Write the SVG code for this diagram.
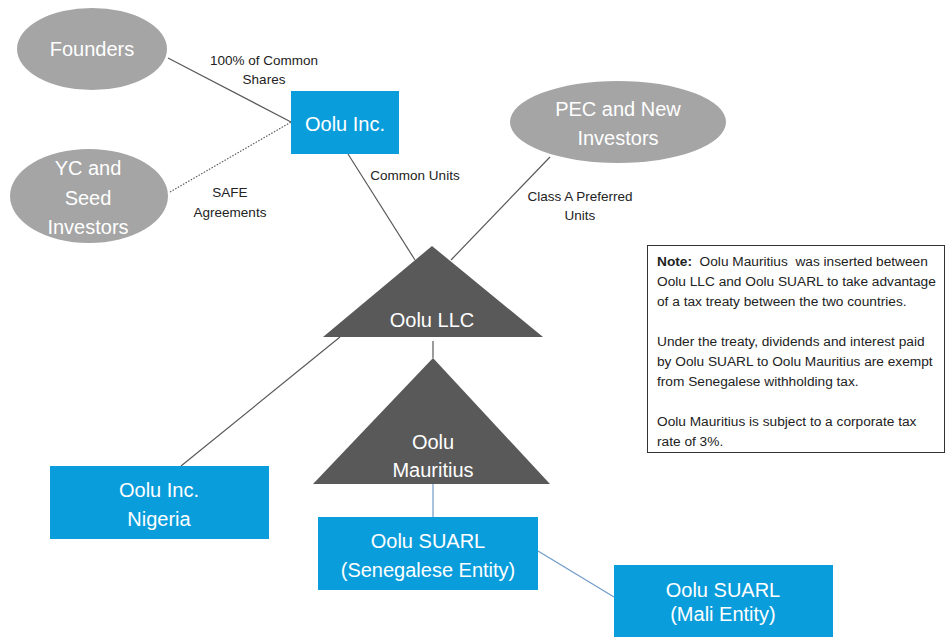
<svg xmlns="http://www.w3.org/2000/svg" width="948" height="637" viewBox="0 0 948 637">
<style>
.ell{fill:#a5a5a5}
.box{fill:#0a9ddb}
.tri{fill:#595959}
.wt{font-family:"Liberation Sans",Arial,sans-serif;font-size:20px;fill:#ffffff;text-anchor:middle}
.lbl{font-family:"Liberation Sans",Arial,sans-serif;font-size:13.5px;fill:#222222;text-anchor:middle}
.note{font-family:"Liberation Sans",Arial,sans-serif;font-size:13.7px;fill:#222222;white-space:pre}
.ln{stroke:#595959;stroke-width:1.2;fill:none}
.bl{stroke:#6f9bc8;stroke-width:1.2;fill:none}
</style>
<rect width="948" height="637" fill="#ffffff"/>
<g id="connectors">
<line class="ln" x1="168" y1="58" x2="291" y2="122"/>
<line class="ln" x1="170" y1="192" x2="291" y2="122" stroke-dasharray="1.5 1.5"/>
<line class="ln" x1="348" y1="154" x2="415" y2="260"/>
<line class="ln" x1="550" y1="157" x2="451" y2="260"/>
<line class="ln" x1="340" y1="337" x2="181" y2="466"/>
<line class="ln" x1="433" y1="341" x2="433" y2="358"/>
<line class="bl" x1="433" y1="484" x2="433" y2="517"/>
<line class="bl" x1="538" y1="551" x2="614" y2="597"/>
<text class="lbl" x="264" y="65">100% of Common</text>
<text class="lbl" x="264" y="84">Shares</text>
<text class="lbl" x="415" y="180">Common Units</text>
<text class="lbl" x="230" y="197">SAFE</text>
<text class="lbl" x="230" y="217">Agreements</text>
<text class="lbl" x="580" y="201">Class A Preferred</text>
<text class="lbl" x="580" y="220">Units</text>
</g>
<g id="founders">
<ellipse class="ell" cx="92" cy="49" rx="75" ry="41"/>
<text class="wt" x="92" y="56">Founders</text>
</g>
<g id="yc-seed">
<ellipse class="ell" cx="89" cy="196" rx="79" ry="47"/>
<text class="wt" x="88" y="175">YC and</text>
<text class="wt" x="88" y="205">Seed</text>
<text class="wt" x="88" y="234">Investors</text>
</g>
<g id="pec">
<ellipse class="ell" cx="618" cy="122" rx="108" ry="41"/>
<text class="wt" x="618" y="116">PEC and New</text>
<text class="wt" x="618" y="145">Investors</text>
</g>
<g id="oolu-inc">
<rect class="box" x="291" y="91" width="108" height="63"/>
<text class="wt" x="345" y="131">Oolu Inc.</text>
</g>
<g id="oolu-llc">
<polygon class="tri" points="432,246 543,337 323,337"/>
<text class="wt" x="432" y="327">Oolu LLC</text>
</g>
<g id="oolu-mauritius">
<polygon class="tri" points="433,358 550,484 313,484"/>
<text class="wt" x="433" y="449">Oolu</text>
<text class="wt" x="433" y="477">Mauritius</text>
</g>
<g id="oolu-nigeria">
<rect class="box" x="50" y="466" width="219" height="73"/>
<text class="wt" x="159" y="497">Oolu Inc.</text>
<text class="wt" x="159" y="526">Nigeria</text>
</g>
<g id="oolu-senegal">
<rect class="box" x="318" y="517" width="220" height="73"/>
<text class="wt" x="428" y="548">Oolu SUARL</text>
<text class="wt" x="428" y="577">(Senegalese Entity)</text>
</g>
<g id="oolu-mali">
<rect class="box" x="614" y="565" width="219" height="80"/>
<text class="wt" x="723" y="597">Oolu SUARL</text>
<text class="wt" x="723" y="621">(Mali Entity)</text>
</g>
<g id="note">
<rect x="647.5" y="245.5" width="297" height="207" fill="#ffffff" stroke="#333333" stroke-width="1"/>
<text class="note" x="657" y="266"><tspan font-weight="bold">Note:</tspan>  Oolu Mauritius  was inserted between</text>
<text class="note" x="657" y="286">Oolu LLC and Oolu SUARL to take advantage</text>
<text class="note" x="657" y="306">of a tax treaty between the two countries.</text>
<text class="note" x="657" y="346">Under the treaty, dividends and interest paid</text>
<text class="note" x="657" y="366">by Oolu SUARL to Oolu Mauritius are exempt</text>
<text class="note" x="657" y="386">from Senegalese withholding tax.</text>
<text class="note" x="657" y="426">Oolu Mauritius is subject to a corporate tax</text>
<text class="note" x="657" y="446">rate of 3%.</text>
</g>
</svg>
